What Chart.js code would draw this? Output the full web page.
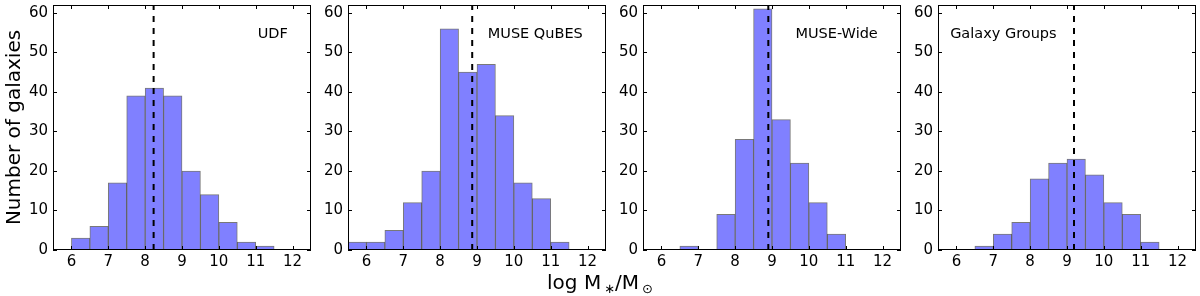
<!DOCTYPE html>
<html>
<head>
<meta charset="utf-8">
<script src="https://cdn.jsdelivr.net/npm/chart.js@4.4.1/dist/chart.umd.min.js"></script>
<style>
  body { margin: 0; background: #fff; }
  #wrap { position: relative; width: 1200px; height: 296px; font-family: "DejaVu Sans", sans-serif; }
  #wrap canvas { position: absolute; top: 0; }
  #xlabel { position: absolute; left: 0; width: 1200px; top: 272px; text-align: center;
            font-size: 20px; line-height: 20px; color: #000; }
  #xlabel sub { font-size: 13px; vertical-align: -4px; margin-left: 3px; }
</style>
</head>
<body>
<div id="wrap">
  <canvas id="p0"></canvas>
  <canvas id="p1"></canvas>
  <canvas id="p2"></canvas>
  <canvas id="p3"></canvas>
  <div id="xlabel">log M<sub>∗</sub>/M<sub>⊙</sub></div>
</div>
<script>
// histogram bins (log stellar mass), bin width 0.5
const binCenters = [5.75, 6.25, 6.75, 7.25, 7.75, 8.25, 8.75, 9.25, 9.75, 10.25, 10.75, 11.25, 11.75, 12.25];

const udfCounts      = [0, 3, 6, 17, 39, 41, 39, 20, 14, 7, 2, 1, 0, 0];
const qubesCounts    = [2, 2, 5, 12, 20, 56, 45, 47, 34, 17, 13, 2, 0, 0];
const museWideCounts = [0, 0, 1, 0, 9, 28, 61, 33, 22, 12, 4, 0, 0, 0];
const groupsCounts   = [0, 0, 1, 4, 7, 18, 22, 23, 19, 12, 9, 2, 0, 0];

const panelNames = ['UDF', 'MUSE QuBES', 'MUSE-Wide', 'Galaxy Groups'];
const medians = [8.23, 8.87, 8.9, 9.19];

const xTicks = [6, 7, 8, 9, 10, 11, 12];
const yTicks = [0, 10, 20, 30, 40, 50, 60];

const allCounts = [udfCounts, qubesCounts, museWideCounts, groupsCounts];

// layout of the four panels
const plotLeft = [53, 348, 643, 938];
const plotWidth = 258;
const axisW = [53, 36, 36, 36];
const labelAlign = ['right', 'right', 'right', 'left'];

const tickFont = { family: 'DejaVu Sans', size: 15 };

// frame with inward ticks on all four sides + panel name
const framePlugin = {
  id: 'frame',
  afterDatasetsDraw(chart, args, opts) {
    const { ctx, chartArea: a, scales: { x, y } } = chart;
    ctx.save();
    ctx.strokeStyle = '#000';
    ctx.lineWidth = 1;
    ctx.strokeRect(a.left + 0.5, a.top + 0.5, a.width - 1, a.height - 1);
    ctx.beginPath();
    xTicks.forEach(v => {
      const px = Math.round(x.getPixelForValue(v)) + 0.5;
      ctx.moveTo(px, a.bottom); ctx.lineTo(px, a.bottom - 4);
      ctx.moveTo(px, a.top); ctx.lineTo(px, a.top + 4);
    });
    yTicks.forEach(v => {
      const py = Math.round(y.getPixelForValue(v)) + 0.5;
      ctx.moveTo(a.left, py); ctx.lineTo(a.left + 4, py);
      ctx.moveTo(a.right, py); ctx.lineTo(a.right - 4, py);
    });
    ctx.stroke();

    ctx.fillStyle = '#000';
    ctx.font = '14.5px "DejaVu Sans"';
    ctx.textBaseline = 'alphabetic';
    ctx.textAlign = opts.align;
    const tx = opts.align === 'right' ? a.left + a.width * 0.91 : a.left + a.width * 0.047;
    ctx.fillText(opts.label, tx, a.top + a.height * 0.133);
    ctx.restore();
  }
};

function makePanel(i) {
  const canvas = document.getElementById('p' + i);
  const w = axisW[i] + plotWidth + 4;
  canvas.width = w;
  canvas.height = 296;
  canvas.style.left = (plotLeft[i] - axisW[i]) + 'px';
  canvas.style.width = w + 'px';
  canvas.style.height = '296px';

  new Chart(canvas.getContext('2d'), {
    type: 'bar',
    data: {
      datasets: [
        {
          type: 'line',
          data: [{ x: medians[i], y: 0 }, { x: medians[i], y: 62 }],
          borderColor: '#000',
          borderWidth: 2,
          borderDash: [6, 6],
          pointRadius: 0,
          order: 1
        },
        {
          type: 'bar',
          data: binCenters.map((c, k) => ({ x: c, y: allCounts[i][k] })),
          backgroundColor: 'rgb(128, 128, 255)',
          borderColor: 'rgba(30, 30, 30, 0.6)',
          borderWidth: 1,
          borderSkipped: false,
          barPercentage: 1,
          categoryPercentage: 1,
          order: 2
        }
      ]
    },
    options: {
      responsive: false,
      animation: false,
      layout: { padding: { top: 5, right: 4, bottom: 0, left: 0 } },
      plugins: {
        legend: { display: false },
        tooltip: { enabled: false },
        frame: { label: panelNames[i], align: labelAlign[i] }
      },
      scales: {
        x: {
          type: 'linear',
          min: 5.5,
          max: 12.5,
          offset: false,
          grid: { display: false, drawTicks: false },
          border: { display: false },
          ticks: { color: '#000', font: tickFont, padding: 3, maxRotation: 0, autoSkip: false },
          afterBuildTicks: s => { s.ticks = xTicks.map(v => ({ value: v })); },
          afterFit: s => { s.height = 46; s.paddingLeft = 0; s.paddingRight = 0; }
        },
        y: {
          min: 0,
          max: 62,
          grid: { display: false, drawTicks: false },
          border: { display: false },
          ticks: { color: '#000', font: tickFont, padding: 5 },
          title: {
            display: i === 0,
            text: 'Number of galaxies',
            color: '#000',
            font: { family: 'DejaVu Sans', size: 20 },
            padding: { top: 3, bottom: 0 }
          },
          afterBuildTicks: s => { s.ticks = yTicks.map(v => ({ value: v })); },
          afterFit: s => { s.width = axisW[i]; s.paddingTop = 0; s.paddingBottom = 0; }
        }
      }
    },
    plugins: [framePlugin]
  });
}

[0, 1, 2, 3].forEach(makePanel);
</script>
</body>
</html>
